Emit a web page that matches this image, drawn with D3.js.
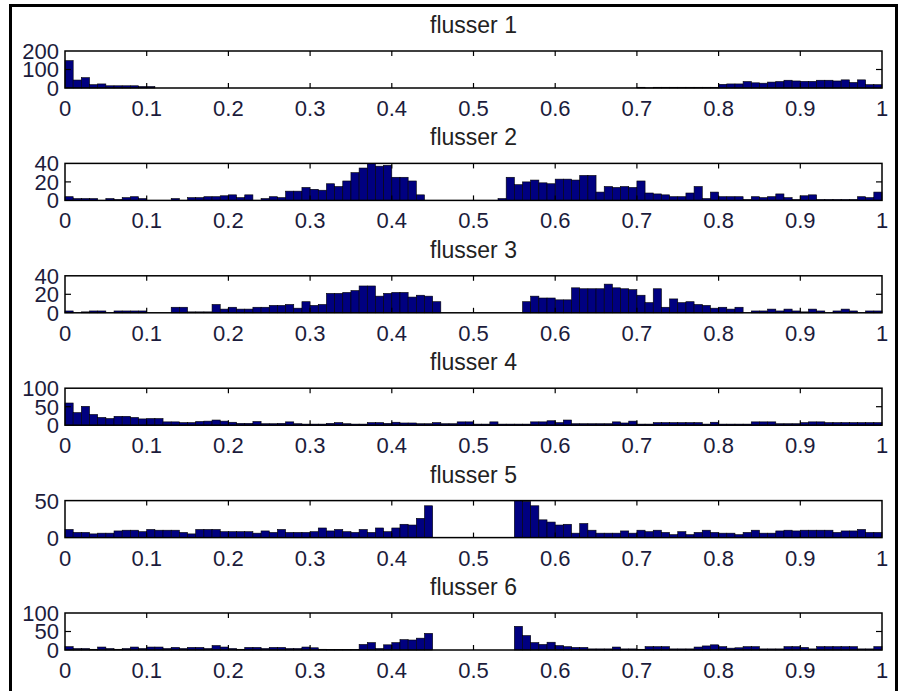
<!DOCTYPE html>
<html>
<head>
<meta charset="utf-8">
<script src="https://cdn.jsdelivr.net/npm/d3@7"></script>
<style>
  body { margin: 0; background: #fff; }
  text { font-family: "Liberation Sans", Arial, sans-serif; }
  .bar { fill: #000080; stroke: #000; stroke-width: 0.6; }
  .frame { fill: none; stroke: #000; stroke-width: 1.5; }
  .tick { stroke: #000; stroke-width: 1.2; }
  .lbl { font-size: 22px; fill: #1c1c3c; }
  .title { font-size: 23px; fill: #222; }
</style>
</head>
<body>
<script>
// bin counts (100 bins of width 0.01 on [0,1])
var flusser1 = [148, 43, 56, 18, 22, 12, 12, 12, 12, 8,
  8, 0, 0, 0, 0, 0, 0, 0, 0, 0,
  0, 0, 0, 0, 0, 0, 0, 0, 0, 0,
  0, 0, 0, 0, 0, 0, 0, 0, 0, 0,
  0, 0, 0, 0, 0, 0, 0, 0, 0, 0,
  0, 0, 0, 0, 0, 0, 0, 0, 0, 0,
  0, 0, 0, 0, 0, 0, 0, 0, 0, 0,
  4, 1, 4, 4, 4, 4, 4, 4, 4, 4,
  20, 22, 22, 35, 28, 26, 32, 35, 42, 38,
  36, 36, 42, 42, 38, 44, 30, 44, 18, 18];

var flusser2 = [4, 2, 2, 2, 0, 2, 1, 3, 4, 2,
  0, 0, 0, 2, 0, 3, 3, 4, 4, 5,
  6, 3, 6, 0, 2, 4, 3, 10, 10, 14,
  12, 11, 18, 15, 21, 30, 35, 40, 37, 38,
  25, 25, 21, 6, 0, 0, 0, 0, 0, 0,
  0, 0, 0, 2, 25, 17, 20, 22, 19, 18,
  23, 23, 22, 27, 27, 9, 15, 14, 15, 14,
  21, 8, 7, 6, 4, 4, 8, 15, 2, 9,
  4, 4, 4, 1, 4, 3, 4, 7, 3, 1,
  5, 6, 1, 1, 1, 1, 1, 4, 3, 9];

var flusser3 = [2, 0, 1, 2, 2, 0, 2, 2, 2, 2,
  0, 0, 0, 6, 6, 1, 1, 1, 9, 4,
  6, 4, 4, 6, 6, 8, 8, 9, 5, 12,
  8, 9, 21, 21, 22, 24, 29, 29, 18, 21,
  22, 22, 17, 19, 18, 12, 0, 0, 0, 0,
  0, 0, 0, 0, 0, 0, 12, 18, 16, 16,
  14, 14, 27, 26, 26, 26, 31, 27, 26, 25,
  19, 11, 26, 6, 15, 11, 12, 9, 8, 5,
  6, 4, 6, 0, 2, 2, 4, 2, 4, 2,
  1, 4, 2, 0, 2, 4, 2, 0, 2, 2];

var flusser4 = [60, 34, 51, 29, 21, 18, 24, 24, 21, 17,
  18, 18, 9, 9, 7, 7, 10, 11, 14, 11,
  8, 5, 5, 10, 4, 4, 5, 9, 4, 3,
  3, 3, 5, 7, 4, 3, 3, 7, 7, 5,
  8, 6, 6, 4, 4, 7, 4, 4, 9, 9,
  3, 3, 9, 3, 3, 3, 3, 9, 9, 12,
  7, 14, 4, 4, 4, 4, 4, 9, 6, 11,
  3, 3, 7, 7, 7, 7, 7, 7, 3, 8,
  3, 3, 3, 3, 9, 9, 9, 4, 4, 4,
  7, 9, 9, 7, 7, 7, 7, 7, 7, 7];

var flusser5 = [11, 7, 7, 5, 6, 6, 9, 10, 10, 8,
  11, 10, 10, 10, 7, 5, 11, 11, 11, 8,
  8, 8, 8, 6, 9, 7, 11, 7, 7, 7,
  8, 13, 9, 11, 8, 7, 11, 7, 13, 8,
  13, 18, 17, 26, 43, 0, 0, 0, 0, 0,
  0, 0, 0, 0, 0, 50, 49, 43, 24, 21,
  17, 18, 6, 19, 10, 6, 6, 6, 9, 6,
  10, 8, 10, 7, 4, 8, 4, 7, 10, 7,
  6, 6, 4, 7, 10, 6, 6, 9, 10, 9,
  10, 10, 10, 10, 7, 9, 9, 11, 7, 7];

var flusser6 = [9, 4, 4, 2, 8, 4, 2, 4, 8, 4,
  8, 8, 4, 7, 4, 7, 7, 4, 12, 8,
  4, 2, 7, 7, 4, 7, 7, 4, 4, 8,
  6, 2, 1, 1, 1, 1, 15, 20, 4, 14,
  20, 28, 27, 32, 45, 0, 0, 0, 0, 0,
  0, 0, 0, 0, 0, 64, 39, 20, 15, 21,
  12, 9, 7, 7, 3, 3, 3, 8, 3, 3,
  2, 9, 9, 9, 3, 3, 3, 8, 11, 14,
  9, 5, 6, 9, 9, 3, 3, 3, 9, 9,
  7, 3, 9, 9, 9, 9, 9, 3, 3, 9];

var titles = ["flusser 1", "flusser 2", "flusser 3", "flusser 4", "flusser 5", "flusser 6"];
var yTicks = [[0, 100, 200], [0, 20, 40], [0, 20, 40], [0, 50, 100], [0, 50], [0, 50, 100]];
var xTicks = [0, 0.1, 0.2, 0.3, 0.4, 0.5, 0.6, 0.7, 0.8, 0.9, 1];
var binWidth = 0.01;

var series = [flusser1, flusser2, flusser3, flusser4, flusser5, flusser6];

// figure size and subplot placement
var W = 899, H = 691;
var left = 65, right = 882;
var firstTop = 51, step = 112.4, axH = 37;

var svg = d3.select("body").append("svg")
    .attr("width", W)
    .attr("height", H);

svg.append("rect").attr("width", W).attr("height", H).attr("fill", "#fff");

// outer figure border
svg.append("rect")
    .attr("x", 10.5).attr("y", 5.5)
    .attr("width", 886).attr("height", 700)
    .attr("fill", "none").attr("stroke", "#000").attr("stroke-width", 3);

var x = d3.scaleLinear().domain([0, 1]).range([left, right]);

series.forEach(function(vals, i) {
  var top = firstTop + i * step,
      bottom = top + axH,
      ticks = yTicks[i],
      ymax = ticks[ticks.length - 1];

  var y = d3.scaleLinear().domain([0, ymax]).range([bottom, top]);

  var g = svg.append("g");

  // histogram bars
  g.selectAll(".bar")
      .data(vals.map(function(v, k) { return {x0: k * binWidth, v: v}; })
        .filter(function(d) { return d.v > 0; }))
    .enter().append("rect")
      .attr("class", "bar")
      .attr("x", function(d) { return x(d.x0); })
      .attr("width", function(d) { return x(d.x0 + binWidth) - x(d.x0); })
      .attr("y", function(d) { return y(Math.min(d.v, ymax)); })
      .attr("height", function(d) { return y(0) - y(Math.min(d.v, ymax)); });

  // axes box
  g.append("rect")
      .attr("class", "frame")
      .attr("x", left).attr("y", top)
      .attr("width", right - left).attr("height", axH);

  // x ticks, pointing in from top and bottom
  var inner = xTicks.slice(1, -1);
  g.selectAll(".xtb").data(inner).enter().append("line")
      .attr("class", "tick")
      .attr("x1", x).attr("x2", x)
      .attr("y1", bottom).attr("y2", bottom - 5);
  g.selectAll(".xtt").data(inner).enter().append("line")
      .attr("class", "tick")
      .attr("x1", x).attr("x2", x)
      .attr("y1", top).attr("y2", top + 5);

  // y ticks on both sides
  var midY = ticks.slice(1, -1);
  g.selectAll(".ytl").data(midY).enter().append("line")
      .attr("class", "tick")
      .attr("x1", left).attr("x2", left + 6)
      .attr("y1", y).attr("y2", y);
  g.selectAll(".ytr").data(midY).enter().append("line")
      .attr("class", "tick")
      .attr("x1", right).attr("x2", right - 6)
      .attr("y1", y).attr("y2", y);

  // x tick labels
  g.selectAll(".xl").data(xTicks).enter().append("text")
      .attr("class", "lbl")
      .attr("x", x)
      .attr("y", bottom + 28)
      .attr("text-anchor", "middle")
      .text(function(d) { return d; });

  // y tick labels (they overlap in the original too)
  g.selectAll(".yl").data(ticks).enter().append("text")
      .attr("class", "lbl")
      .attr("x", left - 6)
      .attr("y", y)
      .attr("dy", "0.36em")
      .attr("text-anchor", "end")
      .text(function(d) { return d; });

  // title
  g.append("text")
      .attr("class", "title")
      .attr("x", (left + right) / 2)
      .attr("y", top - 18)
      .attr("text-anchor", "middle")
      .text(titles[i]);
});
</script>
</body>
</html>
